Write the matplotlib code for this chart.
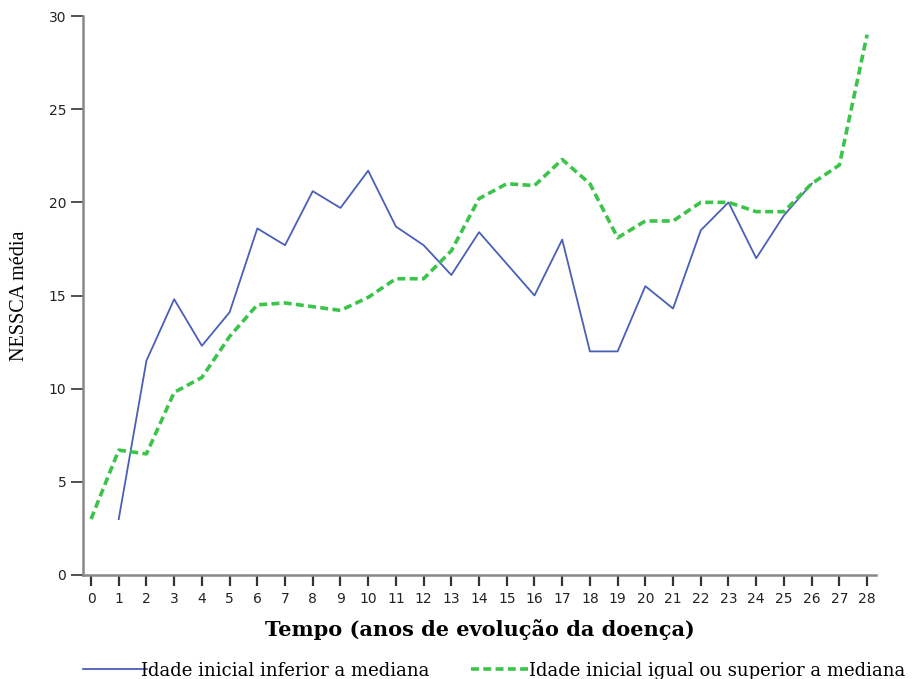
import matplotlib
matplotlib.use('Agg')
import matplotlib.pyplot as plt

# Data
anos_inferior = list(range(1, 27))
nessca_inferior = [3.0, 11.5, 14.8, 12.3, 14.1, 18.6, 17.7, 20.6, 19.7, 21.7,
                   18.7, 17.7, 16.1, 18.4, 16.7, 15.0, 18.0, 12.0, 12.0, 15.5,
                   14.3, 18.5, 20.0, 17.0, 19.3, 21.0]

anos_superior = list(range(0, 29))
nessca_superior = [3.0, 6.7, 6.5, 9.8, 10.6, 12.8, 14.5, 14.6, 14.4, 14.2,
                   14.9, 15.9, 15.9, 17.4, 20.2, 21.0, 20.9, 22.3, 21.0, 18.1,
                   19.0, 19.0, 20.0, 20.0, 19.5, 19.5, 21.0, 22.0, 29.0]

label_inferior = 'Idade inicial inferior a mediana'
label_superior = 'Idade inicial igual ou superior a mediana'
y_ticks = [0, 5, 10, 15, 20, 25, 30]
x_ticks = list(range(0, 29))

fig = plt.figure(figsize=(9.24, 6.79), dpi=100)
ax = fig.add_axes([0.0898, 0.1532, 0.8582, 0.8232])

ax.plot(anos_inferior, nessca_inferior, color='#4a5fb8', lw=1.3,
        label=label_inferior)
ax.plot(anos_superior, nessca_superior, color='#3cc44a', lw=2.6,
        linestyle=(0, (2.2, 1.2)), label=label_superior)

ax.set_xlim(-0.29, 28.32)
ax.set_ylim(0, 30)
ax.set_xticks(x_ticks)
ax.set_yticks(y_ticks)

for s in ['top', 'right']:
    ax.spines[s].set_visible(False)
for s in ['left', 'bottom']:
    ax.spines[s].set_color('#888888')
    ax.spines[s].set_linewidth(1.8)

ax.tick_params(axis='y', length=9, width=1.2, color='#333333',
               labelsize=10, pad=3, labelcolor='#222222')
ax.tick_params(axis='x', length=8, width=1.6, color='#333333',
               labelsize=10, pad=4, labelcolor='#222222')

ax.set_xlabel('Tempo (anos de evolução da doença)', family='DejaVu Serif',
              fontsize=15, fontweight='bold', labelpad=10)
ax.set_ylabel('NESSCA média', family='Liberation Serif', fontsize=14.5,
              labelpad=14)

leg = fig.legend(loc='lower center', bbox_to_anchor=(0.535, -0.025), ncol=2,
                 frameon=False, handlelength=3.5, handletextpad=-0.3,
                 columnspacing=2.3, prop={'family': 'DejaVu Serif', 'size': 13})

plt.savefig('out.png', dpi=100)
